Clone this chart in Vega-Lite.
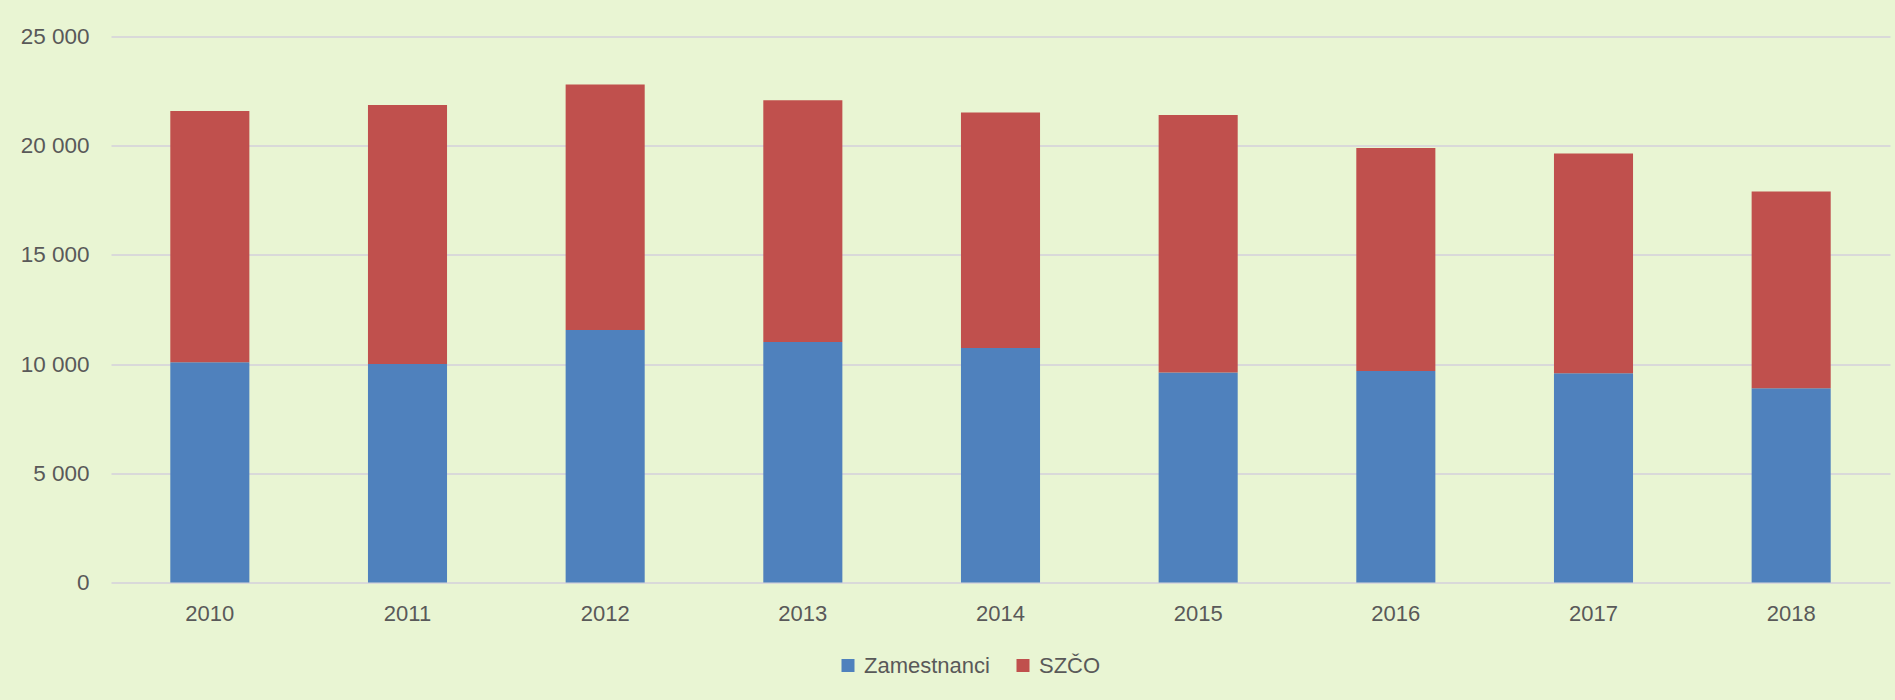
{
  "$schema": "https://vega.github.io/schema/vega-lite/v6.json",
  "autosize": "none",
  "width": 1779,
  "height": 546,
  "padding": {"left": 111, "top": 36.5, "right": 5, "bottom": 117.5},
  "background": "#E9F5D3",
  "config": {
    "view": {"stroke": null},
    "font": "Liberation Sans"
  },
  "data": {
    "values": [
      {"rok": "2010", "typ": "Zamestnanci", "pocet": 10080},
      {"rok": "2010", "typ": "SZČO", "pocet": 11510},
      {"rok": "2011", "typ": "Zamestnanci", "pocet": 10000},
      {"rok": "2011", "typ": "SZČO", "pocet": 11860},
      {"rok": "2012", "typ": "Zamestnanci", "pocet": 11560},
      {"rok": "2012", "typ": "SZČO", "pocet": 11240},
      {"rok": "2013", "typ": "Zamestnanci", "pocet": 11010},
      {"rok": "2013", "typ": "SZČO", "pocet": 11070},
      {"rok": "2014", "typ": "Zamestnanci", "pocet": 10740},
      {"rok": "2014", "typ": "SZČO", "pocet": 10780},
      {"rok": "2015", "typ": "Zamestnanci", "pocet": 9620},
      {"rok": "2015", "typ": "SZČO", "pocet": 11790},
      {"rok": "2016", "typ": "Zamestnanci", "pocet": 9680},
      {"rok": "2016", "typ": "SZČO", "pocet": 10220},
      {"rok": "2017", "typ": "Zamestnanci", "pocet": 9580},
      {"rok": "2017", "typ": "SZČO", "pocet": 10060},
      {"rok": "2018", "typ": "Zamestnanci", "pocet": 8890},
      {"rok": "2018", "typ": "SZČO", "pocet": 9010}
    ]
  },
  "mark": {"type": "bar"},
  "encoding": {
    "x": {
      "field": "rok",
      "type": "nominal",
      "scale": {"paddingInner": 0.6, "paddingOuter": 0.3},
      "axis": {
        "title": null,
        "labelAngle": 0,
        "domain": false,
        "ticks": false,
        "labelFontSize": 22,
        "labelColor": "#595959",
        "labelPadding": 21
      }
    },
    "y": {
      "field": "pocet",
      "type": "quantitative",
      "aggregate": "sum",
      "stack": "zero",
      "scale": {"domain": [0, 25000], "nice": false},
      "axis": {
        "title": null,
        "values": [0, 5000, 10000, 15000, 20000, 25000],
        "labelExpr": "replace(format(datum.value, ','), ',', ' ')",
        "domain": false,
        "ticks": false,
        "labelFontSize": 22.5,
        "labelColor": "#595959",
        "labelPadding": 22,
        "gridColor": "#D9D9D9",
        "gridWidth": 2
      }
    },
    "color": {
      "field": "typ",
      "type": "nominal",
      "sort": ["Zamestnanci", "SZČO"],
      "scale": {"domain": ["Zamestnanci", "SZČO"], "range": ["#4F81BD", "#C0504D"]},
      "legend": {
        "title": null,
        "orient": "none",
        "direction": "horizontal",
        "legendX": 726,
        "legendY": 618,
        "symbolType": "square",
        "symbolSize": 169,
        "symbolStrokeWidth": 0,
        "symbolOpacity": 1,
        "labelFontSize": 22,
        "labelColor": "#595959",
        "labelOffset": 5,
        "columnPadding": 22
      }
    },
    "order": {"field": "typ", "sort": "descending"}
  }
}
